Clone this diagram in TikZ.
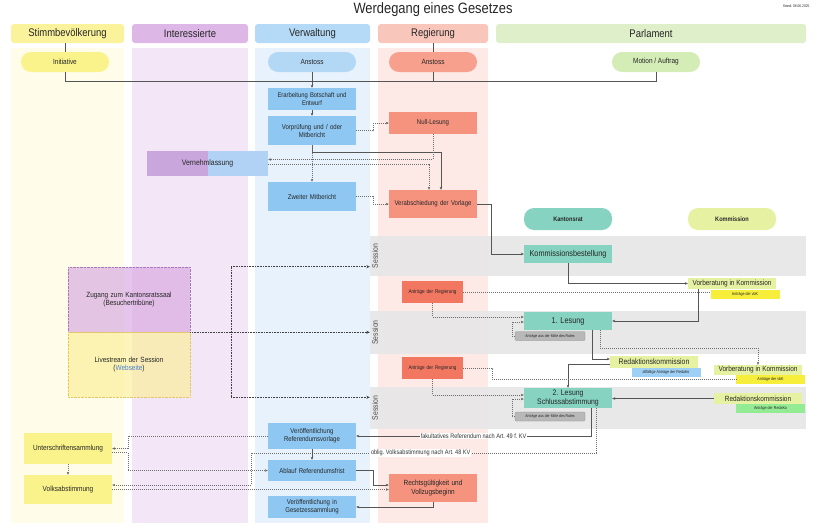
\documentclass[tikz,border=0pt]{standalone}
\usepackage{fontspec}
\setmainfont{Liberation Sans}[FakeStretch=0.86]
\usetikzlibrary{arrows.meta}
\frenchspacing

\definecolor{stimmHead}{HTML}{FBF39C}
\definecolor{stimmBg}{HTML}{FFFDE9}
\definecolor{interHead}{HTML}{DDB8E7}
\definecolor{interBg}{HTML}{F3E6F6}
\definecolor{verwHead}{HTML}{B5DAF7}
\definecolor{verwBg}{HTML}{E7F2FC}
\definecolor{regHead}{HTML}{F8C6BB}
\definecolor{regBg}{HTML}{FDEAE6}
\definecolor{parlHead}{HTML}{DFEFC9}
\definecolor{initFill}{HTML}{FAF28A}
\definecolor{anstVFill}{HTML}{B3D8F6}
\definecolor{anstRFill}{HTML}{F6A08D}
\definecolor{motionFill}{HTML}{D4ECB6}
\definecolor{verwBox}{HTML}{8DC7F2}
\definecolor{regBox}{HTML}{F5937E}
\definecolor{antrBox}{HTML}{F27761}
\definecolor{krFill}{HTML}{86D3C1}
\definecolor{komFill}{HTML}{E6F2A2}
\definecolor{sesFill}{HTML}{E6E6E6}
\definecolor{vbkFill}{HTML}{F7EE3B}
\definecolor{redaFill}{HTML}{9ED0F5}
\definecolor{redgFill}{HTML}{93EC93}
\definecolor{mitteFill}{HTML}{B8B8B8}
\definecolor{lineCol}{HTML}{555555}
\definecolor{linkCol}{HTML}{4A7FD0}
\definecolor{zugFill}{HTML}{D7A6E0}
\definecolor{zugLine}{HTML}{A878B8}
\definecolor{liveFill}{HTML}{FBEE96}
\definecolor{liveLine}{HTML}{E6C75C}
\definecolor{vernPurp}{HTML}{C9A6DC}
\definecolor{vernBlue}{HTML}{B2D2F5}

\tikzset{
  colhead/.style={rounded corners=3pt, minimum height=19pt, inner sep=0pt, font=\fontsize{11}{13}\selectfont},
  pill/.style={rounded corners=10pt, minimum width=88pt, minimum height=20pt, inner sep=0pt, font=\fontsize{7.5}{8.5}\selectfont},
  box/.style={minimum width=88pt, text width=84pt, align=center, inner sep=0pt, font=\fontsize{7}{8}\selectfont},
  vbox/.style={box, fill=verwBox},
  rbox/.style={box, fill=regBox},
  krbox/.style={box, fill=krFill, font=\fontsize{8.5}{9}\selectfont},
  kombox/.style={minimum width=88pt, minimum height=11pt, inner sep=0pt, fill=komFill, font=\fontsize{7.5}{8}\selectfont},
  tag/.style={minimum width=69pt, minimum height=9pt, inner sep=0pt, font=\fontsize{4.2}{5}\selectfont},
  antr/.style={box, fill=antrBox, minimum width=61pt, text width=60pt, minimum height=22pt, font=\fontsize{5.4}{6}\selectfont},
  mitte/.style={fill=mitteFill, draw=black!45, very thin, rounded corners=1pt, minimum width=70pt, minimum height=9pt, inner sep=0pt, font=\fontsize{4}{5}\selectfont},
  sbox/.style={box, fill=initFill, font=\fontsize{7.5}{8.5}\selectfont},
  band/.style={fill=sesFill, fill opacity=0.9, minimum width=436pt, inner sep=0pt},
  seslabel/.style={rotate=90, font=\fontsize{8}{9}\selectfont, text=black!70},
  tile/.style={minimum width=122pt, minimum height=65pt, text width=118pt, align=center, inner sep=0pt, fill opacity=0.65, text opacity=1, line width=0.6pt, dash pattern=on 0.7pt off 0.7pt, font=\fontsize{7.5}{8.5}\selectfont},
  line/.style={draw=lineCol, line width=0.7pt},
  arr/.style={line, -{Stealth[length=3pt,width=2.6pt]}},
  dot/.style={draw=lineCol!85, line width=0.45pt, dash pattern=on 1pt off 1pt},
  darr/.style={dot, -{Stealth[length=3pt,width=2.6pt]}},
  sesarr/.style={draw=black!75, line width=0.8pt, dash pattern=on 0.8pt off 0.8pt, -{Stealth[length=3.5pt,width=3pt]}},
  lbl/.style={font=\fontsize{6.5}{7}\selectfont, inner sep=1pt, text=black!80},
}

\begin{document}
\begin{tikzpicture}[x=1pt, y=-1pt, text=black!85]
    \useasboundingbox (0,0) rectangle (818,528);

    % title
    \node[font=\fontsize{15}{17}\selectfont] (title) at (433,10) {Werdegang eines Gesetzes};
    \node[font=\fontsize{3.8}{4}\selectfont, anchor=east] (stand) at (813,6) {Stand: 08.06.2025};

    % columns
    \fill[stimmBg] (11,48) rectangle (124,523);
    \fill[interBg] (132,48) rectangle (248,523);
    \fill[verwBg] (255,48) rectangle (370,523);
    \fill[regBg] (378,48) rectangle (488,523);

    \node[colhead, fill=stimmHead, minimum width=113pt] (hStimm) at (67.5,33.5) {Stimmbevölkerung};
    \node[colhead, fill=interHead, minimum width=116pt] (hInter) at (190,33.5) {Interessierte};
    \node[colhead, fill=verwHead, minimum width=115pt] (hVerw) at (312.5,33.5) {Verwaltung};
    \node[colhead, fill=regHead, minimum width=110pt] (hReg) at (433,33.5) {Regierung};
    \node[colhead, fill=parlHead, minimum width=310pt] (hParl) at (651,33.5) {Parlament};

    % sessions
    \node[band, minimum height=40pt] (ses1) at (588,256) {};
    \node[band, minimum height=43pt] (ses2) at (588,332.5) {};
    \node[band, minimum height=42pt] (ses3) at (588,408) {};
    \node[seslabel] (sl1) at (375,256) {Session};
    \node[seslabel] (sl2) at (375,332.5) {Session};
    \node[seslabel] (sl3) at (375,408) {Session};

    % start
    \node[pill, fill=initFill] (init) at (65,62) {Initiative};
    \node[pill, fill=anstVFill] (anstV) at (312,62) {Anstoss};
    \node[pill, fill=anstRFill] (anstR) at (433,62) {Anstoss};
    \node[pill, fill=motionFill] (motion) at (656,62) {Motion / Auftrag};

    % Verwaltung
    \node[vbox, minimum height=22pt, text width=88pt, font=\fontsize{6.8}{8}\selectfont] (erarb) at (312,99) {Erarbeitung Botschaft und\\Entwurf};
    \node[vbox, minimum height=29pt] (vorpr) at (312,130.5) {Vorprüfung und / oder\\Mitbericht};
    \node[box, minimum width=121pt, text width=110pt, minimum height=25pt, font=\fontsize{8}{9}\selectfont,
        path picture={
            \fill[vernPurp] (path picture bounding box.south west) rectangle (path picture bounding box.north);
            \fill[vernBlue] (path picture bounding box.north) rectangle (path picture bounding box.south east);
        }] (vernehm) at (207.5,163.5) {Vernehmlassung};
    \node[vbox, minimum height=29pt] (zweit) at (312,196.5) {Zweiter Mitbericht};
    \node[vbox, minimum height=26pt] (veroefR) at (312,436) {Veröffentlichung\\Referendumsvorlage};
    \node[vbox, minimum height=21pt] (ablauf) at (312,470.5) {Ablauf Referendumsfrist};
    \node[vbox, minimum height=22pt] (veroefG) at (312,507) {Veröffentlichung in\\Gesetzessammlung};

    % Regierung
    \node[rbox, minimum height=22pt] (null) at (433,123) {Null-Lesung};
    \node[rbox, minimum height=28pt] (verab) at (433,204) {Verabschiedung der Vorlage};
    \node[antr] (antrR1) at (432.5,292) {Anträge der Regierung};
    \node[antr] (antrR2) at (432.5,368) {Anträge der Regierung};
    \node[rbox, minimum height=28pt, font=\fontsize{7.5}{8.5}\selectfont] (rechts) at (433,488) {Rechtsgültigkeit und\\Vollzugsbeginn};

    % Parlament
    \node[pill, fill=krFill, minimum height=22pt, font=\bfseries\fontsize{6.5}{7}\selectfont] (kr) at (568,219) {Kantonsrat};
    \node[pill, fill=komFill, minimum height=22pt, font=\bfseries\fontsize{6.5}{7}\selectfont] (kom) at (732,219) {Kommission};

    \node[krbox, minimum height=18pt, font=\fontsize{8.5}{9}\selectfont] (kbest) at (568,254) {Kommissionsbestellung};
    \node[krbox, minimum height=18pt] (les1) at (568,321) {1. Lesung};
    \node[krbox, minimum height=20pt, font=\fontsize{8}{8.4}\selectfont] (les2) at (568,398) {2. Lesung\\Schlussabstimmung};
    \node[mitte] (mitte1) at (550,336) {Anträge aus der Mitte des Rates};
    \node[mitte] (mitte2) at (550,416.5) {Anträge aus der Mitte des Rates};

    \node[kombox] (vorb1) at (732,283.5) {Vorberatung in Kommission};
    \node[tag, fill=vbkFill] (avbk1) at (745,294) {Anträge der vbK};
    \node[kombox, minimum height=12pt, font=\fontsize{8}{8.5}\selectfont] (redk1) at (654,362) {Redaktionskommission};
    \node[tag, fill=redaFill] (ared1) at (666,372.5) {allfällige Anträge der RedaKo};
    \node[kombox, minimum height=10pt] (vorb2) at (758,370) {Vorberatung in Kommission};
    \node[tag, fill=vbkFill] (avbk2) at (770.5,379.5) {Anträge der vbK};
    \node[kombox] (redk2) at (758,398.5) {Redaktionskommission};
    \node[tag, fill=redgFill] (ared2) at (770.5,408.5) {Anträge der RedaKo};

    % Stimmbevoelkerung / Interessierte
    \node[sbox, minimum height=31pt] (unter) at (68,448.5) {Unterschriftensammlung};
    \node[sbox, minimum height=29pt] (volks) at (68,489.5) {Volksabstimmung};
    \node[tile, fill=zugFill, draw=zugLine] (zugang) at (129,299.5) {Zugang zum Kantonsratssaal\\(Besuchertribüne)};
    \node[tile, fill=liveFill, draw=liveLine] (live) at (129,364.5) {Livestream der Session\\(\textcolor{linkCol}{Webseite})};
    \coordinate (tap) at (231,332);
    \coordinate (obl) at (251,453);

    % connectors
    \draw[line, thin] (init.north) -- (init.north |- hStimm.south);
    \draw[line, thin] (anstR.north) -- (anstR.north |- hReg.south);
    \draw[line] (init.south) -- ++(0,9) -| (motion.south);
    \draw[line] (anstR.south) -- ++(0,9);
    \draw[arr] (anstV.south) -- (erarb.north);
    \draw[arr] (erarb) -- (vorpr);
    \draw[darr] (vorpr.east) -- ++(17,0) |- (null.west);
    \draw[arr] (vorpr.south) -- ++(0,7) -| ([xshift=8pt]verab.north);
    \draw[darr] (vorpr.south) -- (zweit.north);
    \draw[darr] (null.south) |- ([yshift=4pt]vernehm.east);
    \draw[darr] ([yshift=-0.5pt]vernehm.east) -| ([xshift=-4pt]verab.north);
    \draw[darr] (zweit.east) -- ++(17,0) |- (verab.west);
    \draw[arr] (verab.east) -- ++(14,0) |- (kbest.west);
    \draw[arr] (kbest.south) |- (vorb1.west);
    \draw[arr] ([xshift=-34pt]vorb1.south) |- (les1.east);
    \draw[dot] (antrR1.east) -- (antrR1.east -| avbk1.west);
    \draw[darr] (antrR1.south) |- ([yshift=4pt]les1.west);
    \draw[darr] (mitte1.west) -- ++(-3,0) |- ([yshift=-1pt]les1.west);
    \draw[arr] ([xshift=24pt]les1.south) |- ([yshift=3pt]redk1.west);
    \draw[darr] ([xshift=32pt]les1.south) -- ++(0,18) -| (vorb2.north);
    \draw[arr] ([yshift=-2pt]redk1.west) -| (les2.north);
    \draw[dot] (antrR2.east) -- ++(29,0) |- (avbk2.west);
    \draw[darr] (antrR2.south) |- ([yshift=3pt]les2.west);
    \draw[darr] (mitte2.west) -- ++(-3,0) |- ([yshift=-1pt]les2.west);
    \draw[arr] (redk2.west) -- (redk2.west -| les2.east);
    \draw[arr] ([xshift=23pt]les2.south) |- (veroefR.east)
        node[lbl, fill=white, pos=0.75] (fakRef) {fakultatives Referendum nach Art. 49 f. KV};
    \draw[dot] ([xshift=28pt]les2.south) |- (obl)
        node[lbl, fill=white, pos=0.754] (oblRef) {oblig. Volksabstimmung nach Art. 48 KV};
    \draw[darr] (obl) |- ([yshift=4.5pt]volks.east);
    \draw[arr] (veroefR) -- (ablauf);
    \draw[darr] (veroefR.west) -- ++(-140,0) |- (unter.east);
    \draw[darr] ([yshift=-4pt]unter.east) -- ++(16,0) |- (ablauf.west);
    \draw[darr] (unter) -- (volks);
    \draw[darr] (volks.east) -- (volks.east -| rechts.west);
    \draw[arr] (ablauf.east) -- ++(17,0) |- ([yshift=3pt]rechts.west);
    \draw[arr] (rechts.south) |- (veroefG.east);

    % session access
    \draw[sesarr] (zugang.south east) -- (zugang.south east -| ses2.west);
    \draw[sesarr] (tap |- zugang.north) -- (zugang.north -| ses1.west);
    \draw[sesarr] (tap |- live.south) -- (live.south -| ses3.west);
    \draw[sesarr, -] (tap |- zugang.north) -- (tap |- live.south);
\end{tikzpicture}
\end{document}
